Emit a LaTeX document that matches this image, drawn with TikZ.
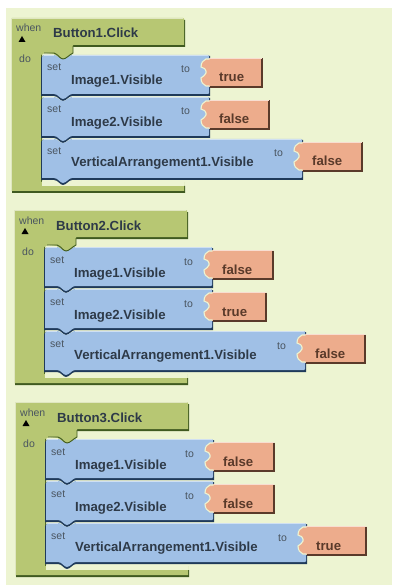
\documentclass[tikz,border=0pt]{standalone}
\usepackage{fontspec}
\setmainfont{Liberation Sans}
\definecolor{bgc}{HTML}{EDF4D2}
\definecolor{olive}{HTML}{B7C773}
\definecolor{olived}{HTML}{3F5A20}
\definecolor{blueb}{HTML}{A0C0E6}
\definecolor{bluel}{HTML}{D0E0F2}
\definecolor{blued}{HTML}{1F3A5A}
\definecolor{orangeb}{HTML}{EDAC8C}
\definecolor{oranged}{HTML}{5A3A2A}
\definecolor{txt}{HTML}{2E3A48}
\definecolor{txts}{HTML}{4A5560}
\tikzset{
 bold/.style={font=\fontsize{13.2}{15}\selectfont\bfseries,text=txt,inner sep=0pt,anchor=base west},
 vallabel/.style={font=\fontsize{13.2}{15}\selectfont\bfseries,text=oranged,inner sep=0pt,anchor=base west},
 small/.style={font=\fontsize{10.5}{12}\selectfont,text=txts,inner sep=0pt,anchor=base west},
}
\newcommand{\setblk}[8]{%
 \fill[blued] (41,#3+3) -- (43,#3+1) -- (54,#3+1) .. controls (58,#3+1) and (60,#3+5) .. (63,#3+5) .. controls (66,#3+5) and (69,#3+1) .. (72,#3+1) -- (#2+1,#3+1) -- (#2+1,#4-1) -- (72,#4-1) .. controls (69,#4-1) and (66,#4+4) .. (63,#4+4) .. controls (60,#4+4) and (58,#4-1) .. (54,#4-1) -- (41,#4-1) -- cycle;
 \fill[blueb] (42,#3+2) -- (44,#3) -- (54,#3) .. controls (58,#3) and (60,#3+4) .. (63,#3+4) .. controls (66,#3+4) and (69,#3) .. (72,#3) -- (#2-1,#3) -- (#2,#3+1) -- (#2,#4-4) -- (#2-1,#4-3) -- (72,#4-3) .. controls (69,#4-3) and (66,#4+2) .. (63,#4+2) .. controls (60,#4+2) and (58,#4-3) .. (54,#4-3) -- (42,#4-3) -- cycle;
 \draw[bluel,line width=.8pt] (44,#3+.5) -- (54,#3+.5) (72,#3+.5) -- (#2-1,#3+.5);
 % socket and value block
 \fill[orangeb] (#2,#3+3) -- (#6,#3+3) -- (#6,#3+32) -- (#2,#3+32) -- cycle;
 \fill[orangeb] (#2+.5,#3+4) -- (#2-3,#3+4) .. controls (#2-6,#3+5) and (#2-8,#3+8) .. (#2-8,#3+12) .. controls (#2-5,#3+13) and (#2-3,#3+14) .. (#2-3,#3+16) -- (#2-3,#3+18) .. controls (#2-3,#3+20) and (#2-6,#3+21) .. (#2-8,#3+23) .. controls (#2-8,#3+27) and (#2-6,#3+30) .. (#2-3,#3+31) -- (#2+.5,#3+31) -- cycle;
 \draw[bgc,line width=1.1pt] (#2+.5,#3+4) -- (#2-3,#3+4) .. controls (#2-6,#3+5) and (#2-8,#3+8) .. (#2-8,#3+12) .. controls (#2-5,#3+13) and (#2-3,#3+14) .. (#2-3,#3+16) -- (#2-3,#3+18) .. controls (#2-3,#3+20) and (#2-6,#3+21) .. (#2-8,#3+23) .. controls (#2-8,#3+27) and (#2-6,#3+30) .. (#2-3,#3+31) -- (#2+.5,#3+31);
 \draw[oranged,line width=1.1pt] (#6,#3+3.5) -- (#6,#3+32) -- (#2+1,#3+32);
 \draw[white!60!orangeb,line width=.7pt] (#2+1,#3+3.5) -- (#6-.5,#3+3.5);
 \node[small] (#1set) at (47,#3+16) {set};
 \node[bold] (#1name) at (71,#3+#8) {#7};
}
\newcommand{\whenblk}[3]{%
 \fill[olived] (12,20) -- (185,20) -- (185,47) -- (72,47) -- (72,52) -- (42,52) -- (42,186) -- (185,186) -- (185,193) -- (12,193) -- cycle;
 \fill[olive] (12,18) -- (183,18) -- (184,19) -- (184,45) -- (73,45) -- (73,53) .. controls (69,56) and (66,60) .. (63,60) .. controls (60,60) and (58,56) .. (54,54) -- (45,53) -- (41,55) -- (41,182) -- (184,182) -- (184,191) -- (11,191) -- (11,19) -- cycle;
 \draw[white!55!olive,line width=.7pt] (11.5,191) -- (11.5,18.5) -- (183,18.5);
 \fill[bgc] (42,181) rectangle (184,186);
 \node[small] (#1when) at (16,32) {when};
 \fill[black] (18.5,42) -- (22,36) -- (25.5,42) -- cycle;
 \node[small] (#1do) at (19,63) {do};
 \node[bold] (#1title) at (53,38) {#3};
}
\newcommand{\groupblk}[8]{%
 \whenblk{#1}{192}{#2}
 \setblk{#1a}{209}{55}{97}{}{#6}{Image1.Visible}{30}
 \setblk{#1b}{209}{97}{139}{}{#7}{Image2.Visible}{30}
 \setblk{#1c}{302}{139}{181}{}{#8}{VerticalArrangement1.Visible}{28}
 \fill[olive] (73,53) .. controls (69,56) and (66,59) .. (63,59) .. controls (60,59) and (58,56) .. (54,54) -- (54,52) -- (73,52) -- cycle;
 \draw[olived,line width=.9pt] (44,53) -- (54,53) .. controls (58,54) and (60,59) .. (63,59) .. controls (66,59) and (69,55) .. (73,53) -- (73,46);
 \node[small] (#1ato) at (181,73) {to};
 \node[small] (#1bto) at (181,115) {to};
 \node[small] (#1cto) at (274,157) {to};
 \node[vallabel] (#1av) at (219,82) {#3};
 \node[vallabel] (#1bv) at (219,124) {#4};
 \node[vallabel] (#1cv) at (312,166) {#5};
}
\begin{document}
\begin{tikzpicture}[x=1pt,y=-1pt]
\useasboundingbox (0,0) rectangle (392,585);
\fill[white] (0,0) rectangle (392,585);
\fill[bgc] (6,8) rectangle (392,585);
\begin{scope}\groupblk{p}{Button1.Click}{true}{false}{false}{262}{269}{362}\end{scope}
\begin{scope}[shift={(3,192)}]\groupblk{q}{Button2.Click}{false}{true}{false}{270}{263}{362}\end{scope}
\begin{scope}[shift={(4,384)}]\groupblk{r}{Button3.Click}{false}{false}{true}{270}{270}{362}\end{scope}
\end{tikzpicture}
\end{document}
